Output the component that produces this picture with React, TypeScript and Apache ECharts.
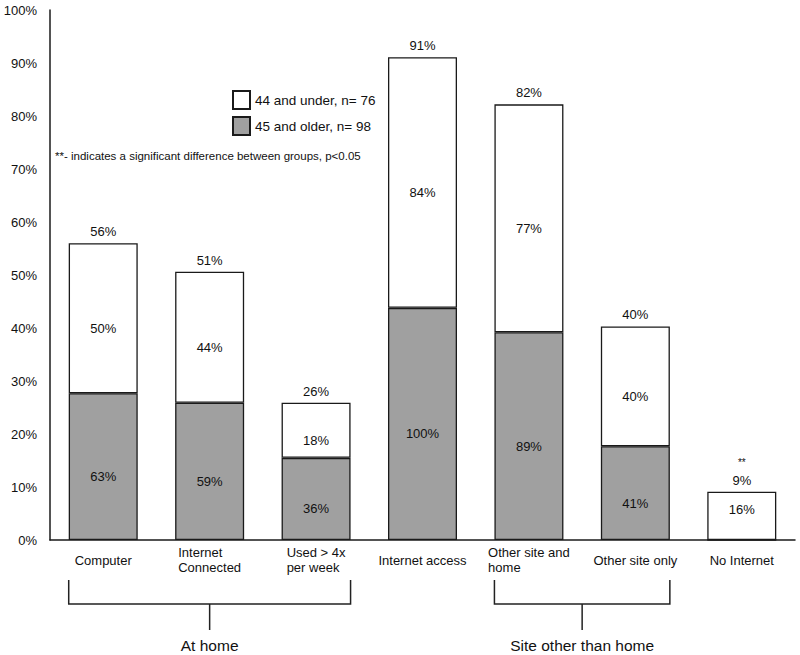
import React, { useEffect, useRef } from "react";
import * as echarts from "echarts";

const categories = [
  "Computer",
  "Internet\nConnected",
  "Used > 4x\nper week",
  "Internet access",
  "Other site and\nhome",
  "Other site only",
  "No Internet",
];
// bar heights (% of all respondents)
const olderValues = [27.7, 25.9, 15.5, 43.8, 39.2, 17.7, 0];
const youngerValues = [28.3, 24.7, 10.4, 47.3, 43.0, 22.6, 9.1];
const totalValues = [56.0, 50.6, 25.9, 91.1, 82.2, 40.3, 9.1];
// printed labels
const olderLabels = ["63%", "59%", "36%", "100%", "89%", "41%", ""];
const youngerLabels = ["50%", "44%", "18%", "84%", "77%", "40%", "16%"];
const totalLabels = ["56%", "51%", "26%", "91%", "82%", "40%", "9%"];
const significance = ["", "", "", "", "", "", "**"];
const yTicks = [0, 10, 20, 30, 40, 50, 60, 70, 80, 90, 100];
const groups = [
  { name: "At home", from: 0, to: 2 },
  { name: "Site other than home", from: 4, to: 5 },
];
const youngerName = "44 and under, n= 76";
const olderName = "45 and older, n= 98";
const noteText = "**- indicates a significant difference between groups, p<0.05";

const FONT = "'Liberation Sans', Arial, Helvetica, sans-serif";
const BAR_W = 69;

export default function App() {
  const ref = useRef<HTMLDivElement>(null);
  useEffect(() => {
    if (!ref.current) return;
    const chart = echarts.init(ref.current, null, { renderer: "svg" });
    const border = { borderColor: "#1a1a1a", borderWidth: 1.3 };
    const option: any = {
      animation: false,
      backgroundColor: "#ffffff",
      textStyle: { fontFamily: FONT },
      grid: { left: 50, right: 5, top: 10, bottom: 115, containLabel: false },
      legend: {
        orient: "vertical",
        left: 227,
        top: 85,
        itemWidth: 17,
        itemHeight: 18,
        itemGap: 6,
        icon: "rect",
        data: [youngerName, olderName],
        textStyle: { fontFamily: FONT, fontSize: 13.5, color: "#111" },
      },
      xAxis: {
        type: "category",
        data: categories,
        axisLine: { show: true, lineStyle: { color: "#1a1a1a", width: 1.5 } },
        axisTick: { show: false },
        axisLabel: {
          interval: 0,
          margin: 20,
          verticalAlign: "middle",
          color: "#111",
          fontFamily: FONT,
          fontSize: 13,
          lineHeight: 15,
          formatter: (v: string) =>
            v
              .split("\n")
              .map((l) => `{l|${l}}`)
              .join("\n"),
          rich: {
            l: { align: "left", fontFamily: FONT, fontSize: 13, lineHeight: 15, color: "#111" },
          },
        },
      },
      yAxis: {
        type: "value",
        min: 0,
        max: 100,
        interval: 10,
        splitLine: { show: false },
        axisTick: { show: false },
        axisLine: { show: true, lineStyle: { color: "#1a1a1a", width: 1.5 } },
        axisLabel: {
          margin: 13,
          color: "#111",
          fontFamily: FONT,
          fontSize: 13,
          formatter: (v: number) => (yTicks.includes(v) ? `${v}%` : ""),
        },
      },
      series: [
        {
          name: olderName,
          type: "bar",
          stack: "all",
          barWidth: BAR_W,
          data: olderValues,
          itemStyle: { color: "#a0a0a0", ...border },
          label: {
            show: true,
            position: "inside",
            offset: [0, 10],
            color: "#111",
            fontFamily: FONT,
            fontSize: 13,
            formatter: (p: any) => olderLabels[p.dataIndex],
          },
        },
        {
          name: youngerName,
          type: "bar",
          stack: "all",
          barWidth: BAR_W,
          data: youngerValues.map((v, i) =>
            olderValues[i] === 0 ? { value: v, label: { offset: [0, -6] } } : v
          ),
          itemStyle: { color: "#ffffff", ...border },
          label: {
            show: true,
            position: "inside",
            offset: [0, 10],
            color: "#111",
            fontFamily: FONT,
            fontSize: 13,
            formatter: (p: any) => youngerLabels[p.dataIndex],
          },
        },
        {
          name: "total",
          type: "scatter",
          data: totalValues,
          symbolSize: 0.1,
          itemStyle: { color: "#ffffff", opacity: 1 },
          silent: true,
          emphasis: { disabled: true },
          label: {
            show: true,
            position: "top",
            distance: 4,
            color: "#111",
            opacity: 1,
            fontFamily: FONT,
            fontSize: 13,
            lineHeight: 15,
            formatter: (p: any) => {
              const s = significance[p.dataIndex];
              const t = totalLabels[p.dataIndex];
              return s ? `{s|${s}}\n{n|${t}}` : `{n|${t}}`;
            },
            rich: {
              s: { fontFamily: FONT, fontSize: 10, lineHeight: 21, color: "#111" },
              n: { fontFamily: FONT, fontSize: 13, lineHeight: 15, color: "#111" },
            },
          },
        },
      ],
    };
    chart.setOption(option);

    const cx = (i: number) => chart.convertToPixel({ xAxisIndex: 0 }, i) as number;
    const y0 = chart.convertToPixel({ yAxisIndex: 0 }, 0) as number;
    const stroke = { stroke: "#222", lineWidth: 1.5 };
    const graphics: any[] = [
      {
        type: "text",
        left: 55,
        top: 150,
        style: { text: noteText, fontFamily: FONT, fontSize: 11.5, fill: "#111" },
      },
    ];
    groups.forEach((g) => {
      const xl = cx(g.from) - BAR_W / 2;
      const xr = cx(g.to) + BAR_W / 2;
      const xm = (xl + xr) / 2;
      graphics.push({
        type: "polyline",
        shape: {
          points: [
            [xl, y0 + 40],
            [xl, y0 + 64],
            [xr, y0 + 64],
            [xr, y0 + 40],
          ],
        },
        style: { ...stroke, fill: null },
      });
      graphics.push({
        type: "line",
        shape: { x1: xm, y1: y0 + 64, x2: xm, y2: y0 + 90 },
        style: stroke,
      });
      graphics.push({
        type: "text",
        x: xm,
        y: y0 + 105,
        style: {
          text: g.name,
          fontFamily: FONT,
          fontSize: 15.5,
          fill: "#111",
          textAlign: "center",
          textVerticalAlign: "middle",
        },
      });
    });
    chart.setOption({ graphic: graphics });

    return () => chart.dispose();
  }, []);
  return (
    <div
      ref={ref}
      style={{ position: "fixed", left: 0, top: 0, width: 800, height: 655, background: "#fff" }}
    />
  );
}
